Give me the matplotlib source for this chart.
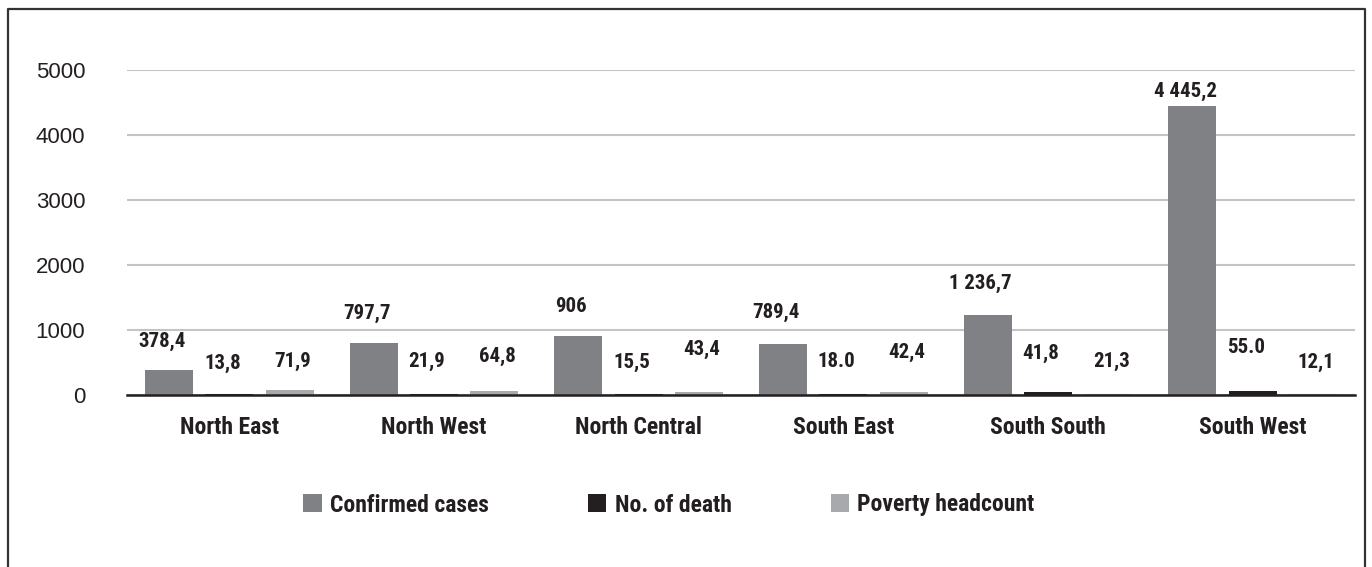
import numpy as np
import matplotlib
matplotlib.use('Agg')
import matplotlib.pyplot as plt
from matplotlib.patches import Patch
from matplotlib.lines import Line2D

regions = ['North East', 'North West', 'North Central', 'South East', 'South South', 'South West']
confirmed = [378.4, 797.7, 906, 789.4, 1236.7, 4445.2]
deaths = [13.8, 21.9, 15.5, 18.0, 41.8, 55.0]
poverty = [71.9, 64.8, 43.4, 42.4, 21.3, 12.1]
confirmed_txt = ['378,4', '797,7', '906', '789,4', '1 236,7', '4 445,2']
deaths_txt = ['13,8', '21,9', '15,5', '18.0', '41,8', '55.0']
poverty_txt = ['71,9', '64,8', '43,4', '42,4', '21,3', '12,1']
series_names = ['Confirmed cases', 'No. of death', 'Poverty headcount']

colors = ['#808184', '#231f20', '#a7a9ac']
txt_col = '#231f20'
narrow = ['Roboto Condensed', 'Fira Sans Condensed', 'Liberation Sans']

# label placement (pixels above bar top / sideways shift), like the Excel labels
lab_dy = [[29, 30, 30, 31, 31, 15],
          [31, 32, 32, 32, 39, 44],
          [29, 34, 43, 40, 32, 32]]
lab_dx = [-7, -7, 3]

W, H = 1372, 567
fig = plt.figure(figsize=(W / 100, H / 100), dpi=100)
ax = fig.add_axes([127 / W, (H - 395) / H, (1355 - 127) / W, (395 - 70) / H])

x = np.arange(len(regions))
step = 0.295
bw = 0.234
all_vals = [confirmed, deaths, poverty]
all_txt = [confirmed_txt, deaths_txt, poverty_txt]
for i, (vals, txts) in enumerate(zip(all_vals, all_txt)):
    pos = x + (i - 1) * step
    ax.bar(pos, vals, width=bw, color=colors[i], zorder=3)
    for j, (p, v, t) in enumerate(zip(pos, vals, txts)):
        ax.annotate(t, (p, v), xytext=(lab_dx[i], lab_dy[i][j]), textcoords='offset pixels',
                    ha='center', va='center', fontsize=15, fontweight='bold',
                    family=narrow, color=txt_col)

ax.set_xlim(-0.5, len(regions) - 0.5)
ax.set_ylim(0, 5000)
ax.set_yticks([0, 1000, 2000, 3000, 4000, 5000])
ax.yaxis.grid(True, color='#c4c4c8', linewidth=1.5, zorder=0)
ax.set_axisbelow(True)
for s in ['top', 'right', 'left']:
    ax.spines[s].set_visible(False)
ax.spines['bottom'].set_color('#231f20')
ax.spines['bottom'].set_linewidth(1.8)
ax.spines['bottom'].set_zorder(4)
ax.tick_params(axis='y', length=0, pad=30, labelsize=16, labelcolor=txt_col)
ax.tick_params(axis='x', length=0, pad=15)
ax.set_xticks(x)
ax.set_xticklabels(regions, fontsize=17, fontweight='bold', family=narrow, color=txt_col)
for lab in ax.get_yticklabels():
    lab.set_family(['Liberation Sans', 'DejaVu Sans'])

handles = [Patch(facecolor=c) for c in colors]
fig.legend(handles, series_names, loc='center', bbox_to_anchor=(669 / W, 1 - 505 / H), ncol=3,
           frameon=False, handlelength=0.78, handleheight=0.78, handletextpad=0.35,
           columnspacing=4.2, prop={'family': narrow, 'weight': 'bold', 'size': 17})
for t in fig.legends[0].get_texts():
    t.set_color(txt_col)

# outer frame (bottom edge lies beyond the picture)
fx = [8 / W, 8 / W, 1365 / W, 1365 / W]
fy = [0, 1 - 9 / H, 1 - 9 / H, 0]
fig.add_artist(Line2D(fx, fy, transform=fig.transFigure, color='#333333', linewidth=1.6))

fig.savefig('out.png', dpi=100)
